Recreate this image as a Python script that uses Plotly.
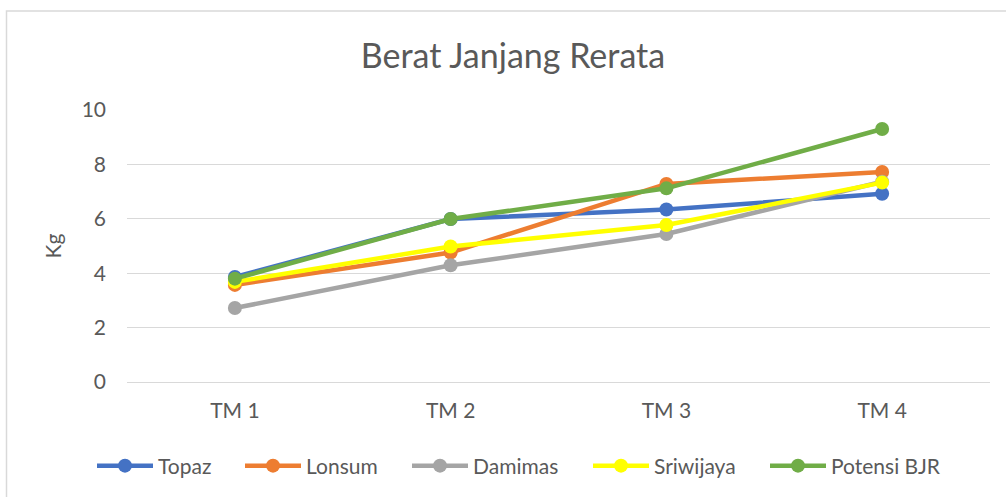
import plotly.graph_objects as go

categories = ["TM 1", "TM 2", "TM 3", "TM 4"]
topaz = [3.86, 5.99, 6.34, 6.92]
lonsum = [3.57, 4.76, 7.28, 7.72]
damimas = [2.72, 4.29, 5.44, 7.36]
sriwijaya = [3.68, 4.98, 5.77, 7.33]
potensi = [3.80, 5.99, 7.12, 9.30]

series = [
    ("Topaz", topaz, "#4472C4"),
    ("Lonsum", lonsum, "#ED7D31"),
    ("Damimas", damimas, "#A5A5A5"),
    ("Sriwijaya", sriwijaya, "#FFFF00"),
    ("Potensi BJR", potensi, "#70AD47"),
]
legend_starts = [97, 245, 412, 593, 770]

FONT = "Lato, Carlito, Calibri, sans-serif"
TXT = "#595959"
PL, PR, PT, PB = 127, 990, 110, 382
PW, PH = PR - PL, PB - PT

fig = go.Figure()
legends = {}
for i, (name, vals, col) in enumerate(series):
    lg = "legend" if i == 0 else f"legend{i + 1}"
    fig.add_trace(go.Scatter(
        x=categories, y=vals, name=name, mode="lines+markers",
        line=dict(color=col, width=4.5),
        marker=dict(color=col, size=14),
        legend=lg,
    ))
    legends[lg] = dict(orientation="h", x=(legend_starts[i] - 5 - PL) / PW, xanchor="left",
                       y=-(466 - PB) / PH, yanchor="middle",
                       font=dict(family=FONT, size=21, color=TXT),
                       itemwidth=56, bgcolor="rgba(0,0,0,0)")

fig.update_layout(
    width=1006, height=497,
    margin=dict(l=PL, r=1006 - PR, t=PT, b=497 - PB, autoexpand=False),
    paper_bgcolor="white", plot_bgcolor="white",
    title=dict(text="Berat Janjang Rerata", x=(513 - PL) / PW, xref="paper", xanchor="center",
               y=1 - 56 / 497, yanchor="middle",
               font=dict(family=FONT, size=34, color=TXT)),
    font=dict(family=FONT, color=TXT, size=21),
    showlegend=True,
    shapes=[dict(type="rect", xref="paper", yref="paper",
                 x0=(6.5 - PL) / PW, x1=(1020 - PL) / PW,
                 y0=-(510 - PB) / PH, y1=(PB - 11) / PH,
                 line=dict(color="#D9D9D9", width=1.5))],
    **legends,
)
fig.update_xaxes(showgrid=False, showline=True, linecolor="#D9D9D9", linewidth=1,
                 ticks="", tickfont=dict(size=21, color=TXT), range=[-0.5, 3.5],
                 automargin=False, ticklabelstandoff=10)
fig.update_yaxes(range=[0, 10], dtick=2, showgrid=True, gridcolor="#D9D9D9", gridwidth=1,
                 zeroline=False, showline=False, ticks="", automargin=False,
                 tickfont=dict(size=21, color=TXT), ticklabelstandoff=20,
                 title=dict(text="Kg", font=dict(size=21, color=TXT), standoff=14))

fig.write_html("out.html", config={"displayModeBar": False},
               post_script="document.body.style.margin='0';")
